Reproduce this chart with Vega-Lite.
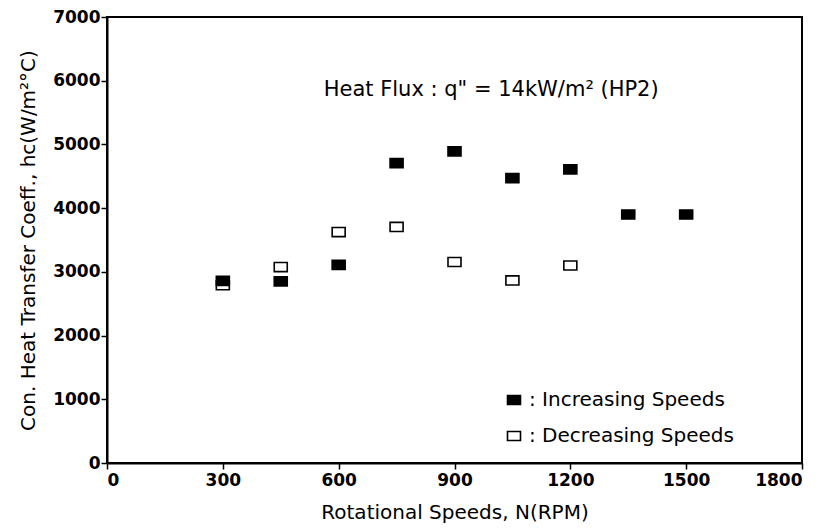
{
  "$schema": "https://vega.github.io/schema/vega-lite/v6.json",
  "autosize": "none",
  "width": 695,
  "height": 446,
  "padding": {"left": 107, "top": 17, "right": 23, "bottom": 67},
  "background": "white",
  "config": {
    "font": "DejaVu Sans",
    "view": {"stroke": "black", "strokeWidth": 2},
    "axis": {
      "domainColor": "black",
      "domainWidth": 2,
      "tickColor": "black",
      "tickWidth": 1.5,
      "tickSize": 6,
      "grid": false,
      "format": "d",
      "labelFont": "DejaVu Sans",
      "labelFontSize": 17,
      "labelColor": "black",
      "labelFontWeight": "bold",
      "titleFont": "DejaVu Sans",
      "titleFontSize": 20,
      "titleFontWeight": "normal",
      "titleColor": "black"
    }
  },
  "layer": [
    {
      "data": {
        "values": [
          {"rpm": 300, "hc": 2790, "series": "Decreasing Speeds"},
          {"rpm": 450, "hc": 3075, "series": "Decreasing Speeds"},
          {"rpm": 600, "hc": 3625, "series": "Decreasing Speeds"},
          {"rpm": 750, "hc": 3705, "series": "Decreasing Speeds"},
          {"rpm": 900, "hc": 3155, "series": "Decreasing Speeds"},
          {"rpm": 1050, "hc": 2865, "series": "Decreasing Speeds"},
          {"rpm": 1200, "hc": 3100, "series": "Decreasing Speeds"},
          {"rpm": 300, "hc": 2860, "series": "Increasing Speeds"},
          {"rpm": 450, "hc": 2850, "series": "Increasing Speeds"},
          {"rpm": 600, "hc": 3110, "series": "Increasing Speeds"},
          {"rpm": 750, "hc": 4705, "series": "Increasing Speeds"},
          {"rpm": 900, "hc": 4890, "series": "Increasing Speeds"},
          {"rpm": 1050, "hc": 4470, "series": "Increasing Speeds"},
          {"rpm": 1200, "hc": 4610, "series": "Increasing Speeds"},
          {"rpm": 1350, "hc": 3900, "series": "Increasing Speeds"},
          {"rpm": 1500, "hc": 3900, "series": "Increasing Speeds"}
        ]
      },
      "mark": {
        "type": "point",
        "shape": "M-1,-0.7H1V0.7H-1Z",
        "size": 169,
        "filled": true,
        "stroke": "black",
        "strokeWidth": 1.6,
        "opacity": 1
      },
      "encoding": {
        "x": {
          "field": "rpm",
          "type": "quantitative",
          "scale": {"domain": [0, 1800], "nice": false, "zero": true},
          "axis": {"values": [0, 300, 600, 900, 1200, 1500, 1800], "title": "Rotational Speeds, N(RPM)", "titlePadding": 14, "labelPadding": 3}
        },
        "y": {
          "field": "hc",
          "type": "quantitative",
          "scale": {"domain": [0, 7000], "nice": false},
          "axis": {"values": [0, 1000, 2000, 3000, 4000, 5000, 6000, 7000], "title": "Con. Heat Transfer Coeff., hc(W/m²°C)", "titlePadding": 14, "labelPadding": 1}
        },
        "fill": {
          "field": "series",
          "type": "nominal",
          "scale": {"domain": ["Increasing Speeds", "Decreasing Speeds"], "range": ["black", "white"]},
          "legend": {
            "title": null,
            "orient": "none",
            "legendX": 397,
            "legendY": 373,
            "padding": 0,
            "symbolType": "M-1,-0.7H1V0.7H-1Z",
            "symbolSize": 169,
            "symbolStrokeColor": "black",
            "symbolStrokeWidth": 1.6,
            "symbolOpacity": 1,
            "labelExpr": "': ' + datum.label",
            "labelFont": "DejaVu Sans",
            "labelFontSize": 20,
            "labelColor": "black",
            "labelOffset": 5,
            "rowPadding": 16,
            "labelLimit": 400
          }
        }
      }
    },
    {
      "data": {"values": [{"rpm": 995, "hc": 5860, "label": "Heat Flux : q\" = 14kW/m² (HP2)"}]},
      "mark": {"type": "text", "font": "DejaVu Sans", "fontSize": 21, "color": "black", "align": "center", "baseline": "middle"},
      "encoding": {
        "x": {"field": "rpm", "type": "quantitative"},
        "y": {"field": "hc", "type": "quantitative"},
        "text": {"field": "label"}
      }
    }
  ]
}
